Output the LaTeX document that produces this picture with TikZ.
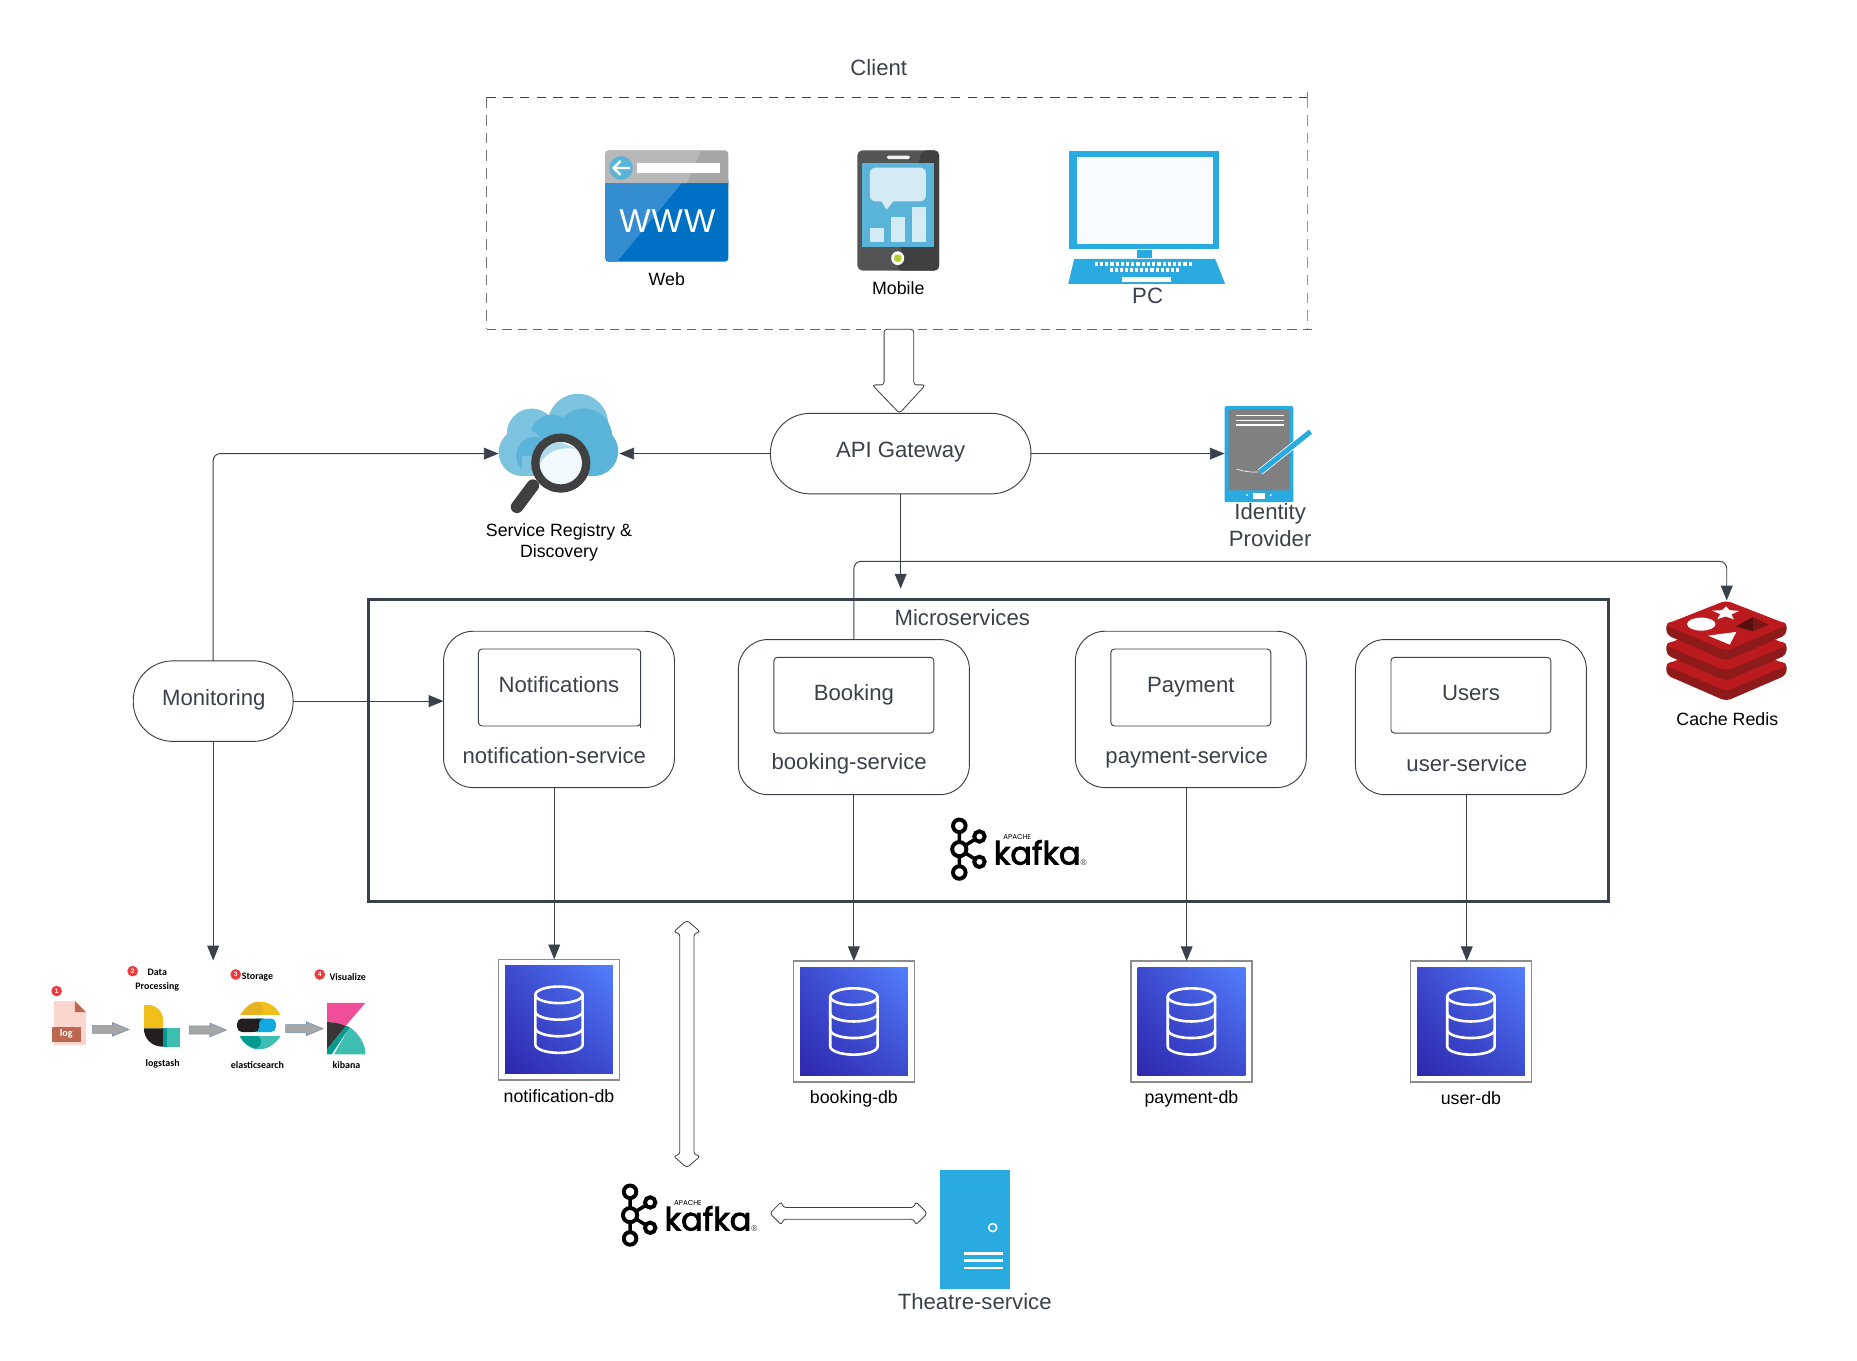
\documentclass[tikz,border=0pt]{standalone}
\usepackage{fontspec}
\setmainfont{Liberation Sans}
\newfontfamily\kafkafont[FakeBold=2.6]{Poppins}
\newfontfamily\kafkasmall{Poppins}
\newfontfamily\elkfont{Carlito}
\usetikzlibrary{arrows.meta,calc,shapes.geometric,shadings}
\definecolor{ink}{HTML}{3A414A}
\definecolor{skyb}{HTML}{29ABE2}
\definecolor{cloudA}{HTML}{7CC3E0}
\definecolor{cloudB}{HTML}{5AB4DA}
\definecolor{pale}{HTML}{D4EBF5}
\definecolor{redF}{HTML}{BB1A1E}
\definecolor{redS}{HTML}{8F1A1A}
\definecolor{tealA}{HTML}{3EBEB0}
\definecolor{tealB}{HTML}{019B8F}
\definecolor{yelA}{HTML}{F0BF1A}
\definecolor{pinkA}{HTML}{F04E98}
\definecolor{coalA}{HTML}{231F20}
\definecolor{webA}{HTML}{0070C4}
\definecolor{webB}{HTML}{338DD0}
\definecolor{dbA}{HTML}{2E27AD}
\definecolor{dbB}{HTML}{527FFF}
\definecolor{badge}{HTML}{EE3A3F}
\definecolor{logA}{HTML}{FDD5CF}
\definecolor{logB}{HTML}{BD6650}
\definecolor{elkEdge}{HTML}{7B93AD}
\definecolor{elasticB}{HTML}{0DA9E0}
\definecolor{limeB}{HTML}{B5CF2A}
\tikzset{
  x=1pt,y=-1pt,
  lab/.style={font=\fontsize{18.7}{23}\selectfont,text=ink,inner sep=0pt,align=center},
  blab/.style={font=\fontsize{15}{18.5}\selectfont,text=black,inner sep=0pt,align=center},
  elab/.style={font=\elkfont\bfseries\fontsize{8.4}{11.3}\selectfont,text=black,inner sep=0pt,align=center},
  iconbox/.style={inner sep=0pt,outer sep=0pt},
  pill/.style={draw=ink,line width=0.8pt,inner sep=0pt,outer sep=0pt,rounded corners=#1},
  pill/.default=25pt,
  inbox/.style={draw=ink,line width=0.8pt,inner sep=0pt,outer sep=0pt,rounded corners=3pt},
  link/.style={draw=ink,line width=0.8pt,-{Triangle[length=12.5pt,width=10pt]}},
  hollow/.style={draw=ink,line width=0.7pt,fill=white,rounded corners=2.5pt},
  elkarrow/.style={draw=elkEdge,fill=black!35,line width=0.5pt},
  dbframe/.style={draw=black!45,line width=1.3pt,inner sep=0pt,outer sep=0pt,minimum width=102pt,minimum height=102pt},
  dbline/.style={draw=white,line width=2.2pt},
}
\newcommand\kafkalogo[1]{%
  \begin{scope}[shift={(#1)},shift={(-50,0)}]
    \draw[black,line width=3pt] (0,-19.7)--(0,19.7) (0,0)--(17,-10.7) (0,0)--(17,10.7);
    \foreach \px/\py/\pr in {0/-19.7/5.3,0/19.7/5.3,0/0/6,17/-10.7/4.4,17/10.7/4.4}
      \draw[black,fill=white,line width=3.3pt] (\px,\py) circle[radius=\pr];
    \node[anchor=base west,inner sep=0pt,text=black,font=\kafkafont\fontsize{27}{27}\selectfont] at (29,13) {kafka};
    \node[anchor=west,inner sep=0pt,text=black,font=\kafkasmall\fontsize{6}{6}\selectfont] at (37,-10.5) {APACHE};
    \node[inner sep=0pt,text=black!80,font=\fontsize{7}{7}\selectfont] at (105,11.5) {®};
  \end{scope}}
\newcommand\dbicon[3]{%
  \node[dbframe] (#1) at (#2,#3) {};
  \begin{scope}[shift={(#2,#3)}]
    \shade[lower left=dbA,lower right=dbA!60!dbB,upper left=dbA!60!dbB,upper right=dbB] (-45.5,-45.5) rectangle (45.5,45.5);
    \draw[dbline] (0,-21) ellipse[x radius=20,y radius=7];
    \draw[dbline] (-20,-21) -- (-20,21) arc[start angle=180,end angle=0,x radius=20,y radius=7] -- (20,-21);
    \draw[dbline] (-20,-7) arc[start angle=180,end angle=0,x radius=20,y radius=7];
    \draw[dbline] (-20,7) arc[start angle=180,end angle=0,x radius=20,y radius=7];
  \end{scope}}
\newcommand\elkarrowat[3]{%
  \begin{scope}[shift={(#1,#2)}]
    \draw[elkarrow] (0,-3.4)--(#3-14,-3.4)--(#3-14,-5.8)--(#3,0)--(#3-14,5.8)--(#3-14,3.4)--(0,3.4)--cycle;
  \end{scope}}
\newcommand\elkbadge[3]{%
  \fill[badge] (#1,#2) circle[radius=4.5];
  \node[inner sep=0pt,text=white,font=\bfseries\fontsize{5.5}{5.5}\selectfont] at (#1,#2) {#3};}
\begin{document}
\begin{tikzpicture}
\useasboundingbox (0,0) rectangle (1568,1149);

% ---------- Client group
\node[lab] (clientlab) at (742,57) {Client};
\node[iconbox,minimum width=693pt,minimum height=196pt] (client) at (757.5,180) {};
\draw[ink,line width=0.7pt,dash pattern=on 8pt off 6pt] (client.north west) -- (client.north east);
\draw[gray!85,line width=0.9pt,dash pattern=on 9pt off 6pt] (client.north east) -- (client.south east);
\draw[gray!80!ink,line width=0.8pt,dash pattern=on 9pt off 6pt] (client.north west) -- (client.south west);
\draw[gray!60!ink,line width=0.8pt,dash pattern=on 8pt off 5pt] (client.south west) -- ([xshift=5pt]client.south east);
\draw[gray,line width=0.7pt] (client.north east) -- ([yshift=4pt]client.north east);

% Web icon
\node[iconbox,minimum width=104pt,minimum height=94pt] (web) at (563,174) {};
\fill[rounded corners=3pt,fill=black!35] (511,127) rectangle (615,160);
\fill[black!28] (514,127) -- (592,127) -- (580,154.7) -- (511,154.7) -- (511,130) -- cycle;
\fill[webA,rounded corners=3pt] (511,150) rectangle (615,221);
\fill[black!35] (511,147) rectangle (615,154.7);
\fill[black!28] (511,147) -- (583,147) -- (580,154.7) -- (511,154.7) -- cycle;
\fill[webB] (511,154.7) -- (575.6,154.7) -- (521,221) -- (514,221) -- (511,218) -- cycle;
\fill[cloudB] (524.4,141.8) circle[radius=10];
\draw[white,line width=2pt] (532,141.8) -- (518,141.8) (524,136) -- (518,141.8) -- (524,147.6);
\fill[white] (537.7,137.5) rectangle (608,146.3);
\node[inner sep=0pt,text=white,font=\fontsize{28}{28}\selectfont\addfontfeature{LetterSpace=3.5}] at (563.5,186.5) {WWW};
\node[blab] (weblab) at (563,235.5) {Web};

% Mobile icon
\node[iconbox,minimum width=69pt,minimum height=102pt] (mobile) at (758.5,178) {};
\fill[black!67,rounded corners=4pt] (724,127) rectangle (793,228.4);
\fill[black!75,rounded corners=4pt] (778,127) -- (793,127) -- (793,228.4) -- (757,228.4) -- cycle;
\fill[white!90!gray,rounded corners=1.5pt] (748.6,131.3) rectangle (768.5,134.3);
\fill[cloudB] (728,137.5) rectangle (789,208.4);
\fill[pale,rounded corners=5pt] (734.4,141.5) rectangle (781.8,170);
\fill[pale] (743,168) -- (748.6,177) -- (756,168) -- cycle;
\fill[pale] (734.4,192.7) rectangle (746.2,204.5);
\fill[pale] (752,183.4) rectangle (764,204.5);
\fill[pale] (770,174.4) rectangle (782,204.5);
\fill[white] (758,218) ellipse[x radius=5.5,y radius=5.8];
\fill[limeB] (758,218) circle[radius=3.3];
\node[blab] (moblab) at (758.5,243) {Mobile};

% PC icon
\node[iconbox,minimum width=132pt,minimum height=113pt] (pc) at (968,183) {};
\fill[skyb] (903,127.4) rectangle (1029,210);
\fill[white!97!skyb] (909,132.5) rectangle (1024.4,205.9);
\fill[skyb] (960.4,211) rectangle (972.3,218);
\fill[skyb] (907,218.6) -- (1026,218.6) -- (1034.4,239.6) -- (902,239.6) -- cycle;
\foreach \kx in {0,...,18} \fill[white] (924.4+\kx*4.4,221.6) rectangle ++(2.7,3);
\foreach \kx in {0,...,13} \fill[white] (937+\kx*4.3,226.6) rectangle ++(2.6,2.9);
\fill[white] (947,233.7) rectangle (989,238);
\node[lab] (pclab) at (969,250) {PC};

% ---------- Gateway row
\node[pill=33.5pt,minimum width=220pt,minimum height=68pt] (gw) at (760.5,383) {};
\node[lab] (gwlab) at (760.5,382) {API Gateway};

% Hollow arrow client -> gateway
\draw[hollow] ([xshift=-14pt]client.south -| gw.north)
  -- ++(0,47) -- ++(-10,0) -- ++(23,24) -- ++(22,-24) -- ++(-10,0) -- ++(0,-47) -- cycle;

% Cloud with magnifier
\node[iconbox,minimum width=102pt,minimum height=100pt] (cloud) at (472,383) {};
\fill[cloudA] (488,358) circle[radius=25.5];
\fill[cloudA] (449,366) circle[radius=21];
\fill[cloudB] (493,369) circle[radius=24];
\fill[cloudB] (501,381) circle[radius=21];
\fill[cloudB] (466,368) circle[radius=18];
\fill[cloudA] (441,382) circle[radius=20];
\fill[cloudB] (452,385) circle[radius=16];
\fill[cloudB] (448,372) rectangle (500,401.5);
\fill[cloudA] (441,385) rectangle (453,401.5);
\draw[black!75,line width=10.5pt,line cap=round] (450,410) -- (436.5,428);
\fill[white!90!cloudA] (473.5,391) circle[radius=18];
\fill[pale!70!cloudB] (473.5,373.5) arc[start angle=-90,end angle=-180,radius=18] -- (456,391) .. controls (462,382) and (470,377) .. (487,379) -- cycle;
\draw[black!75,line width=7pt] (473.5,391) circle[radius=21.5];
\node[blab] (cloudlab) at (472,458) {Service Registry \&\\Discovery};

% Identity provider
\node[iconbox,minimum width=58pt,minimum height=81pt] (idp) at (1063,383.5) {};
\fill[skyb,rounded corners=1pt] (1034,343) rectangle (1092,424);
\fill[black!50,rounded corners=1.5pt] (1037.5,345.5) rectangle (1089,414);
\foreach \ly in {351,355,359} \draw[white,line width=1.3pt] (1044,\ly) -- (1084,\ly);
\fill[white] (1058,416.3) rectangle (1068,421);
\fill[white] (1053,418) circle[radius=0.9] (1073,418) circle[radius=0.9];
\draw[white,line width=0.5pt] (1044,396) .. controls (1050,398) and (1056,399) .. (1062,398.5);
\draw[white,line width=5.6pt] (1064,398.5) -- (1106.5,364.5);
\draw[skyb,line width=4.3pt] (1064,398.5) -- (1106.5,364.5);
\node[lab] (idplab) at (1072.5,443.5) {Identity\\Provider};

% Redis
\node[iconbox,minimum width=102pt,minimum height=85pt] (redis) at (1458,549.5) {};
\foreach \oy in {34,17,0} {
  \begin{scope}[shift={(0.5,\oy)}]
    \fill[redS,rounded corners=4pt] (1406.5,525) -- (1406.5,536) -- (1457,558) -- (1508,536) -- (1508,525) -- cycle;
    \fill[redF,rounded corners=4.5pt] (1405,527.5) -- (1457,507) -- (1509.5,527.5) -- (1457,549.5) -- cycle;
  \end{scope}}
\fill[white] (1457.5,512) -- (1460.5,515.2) -- (1468.5,515.8) -- (1462,518.8) -- (1464,523) -- (1457,520.5) -- (1450,522.8) -- (1452.5,518.5) -- (1445.5,515.6) -- (1454,515.2) -- cycle;
\fill[white] (1436.5,527) ellipse[x radius=12,y radius=5.5];
\fill[white] (1442.2,536.7) -- (1466.1,533.6) -- (1460.5,544.3) -- cycle;
\fill[redS!85!black] (1466.1,528.9) -- (1480.1,521) -- (1493.5,527.5) -- (1480.1,533) -- cycle;
\fill[redS!60!black] (1466.1,528.9) -- (1480.1,521) -- (1480.1,533) -- cycle;
\node[blab] (redislab) at (1458.5,607) {Cache Redis};

% ---------- Microservices frame
\node[draw=ink,line width=2.3pt,inner sep=0pt,outer sep=0pt,minimum width=1047pt,minimum height=255pt] (micro) at (834.5,633.5) {};
\node[lab] (microlab) at (812.5,521.5) {Microservices};

% Services
\node[pill,minimum width=195pt,minimum height=132pt] (notif) at (472,599) {};
\node[inbox,minimum width=137pt,minimum height=65pt] (notifin) at (472.5,580.5) {};
\draw[ink,line width=1.3pt] (notifin.north east) ++(0,2) -- ([yshift=-2pt]notifin.south east);
\node[lab] (notiflab) at (472,578) {Notifications};
\node[lab] (notifcap) at (468,638) {notification-service};

\node[pill,minimum width=195pt,minimum height=131pt] (book) at (721,605.5) {};
\node[inbox,minimum width=135pt,minimum height=64pt] (bookin) at (721,587) {};
\node[lab] (booklab) at (721,586.5) {Booking};
\node[lab] (bookcap) at (717,644.5) {booking-service};

\node[pill,minimum width=195pt,minimum height=132pt] (pay) at (1005.5,599) {};
\node[inbox,minimum width=135pt,minimum height=65pt] (payin) at (1005.5,580.5) {};
\node[lab] (paylab) at (1005.5,580.5) {Payment};
\node[lab] (paycap) at (1002,640) {payment-service};

\node[pill,minimum width=195pt,minimum height=131pt] (usr) at (1242,605.5) {};
\node[inbox,minimum width=135pt,minimum height=64pt] (usrin) at (1242,587) {};
\node[lab] (usrlab) at (1242,585.5) {Users};
\node[lab] (usrcap) at (1238.5,644.5) {user-service};

% Kafka logos
\node[iconbox,minimum width=116pt,minimum height=54pt] (kafkaA) at (860,717) {};
\kafkalogo{kafkaA}
\node[iconbox,minimum width=116pt,minimum height=54pt] (kafkaB) at (582,1026) {};
\kafkalogo{kafkaB}

% Monitoring
\node[pill=33.5pt,minimum width=135pt,minimum height=68pt] (mon) at (180,592) {};
\node[lab] (monlab) at (180.5,591) {Monitoring};

% Databases
\dbicon{dbn}{472}{861}
\dbicon{dbb}{721}{862.5}
\dbicon{dbp}{1006}{862.5}
\dbicon{dbu}{1242}{862.5}
\node[blab] (dbnlab) at (472,925.5) {notification-db};
\node[blab] (dbblab) at (721,927.5) {booking-db};
\node[blab] (dbplab) at (1006,927.5) {payment-db};
\node[blab] (dbulab) at (1242,927) {user-db};

% Theatre service
\node[fill=skyb,iconbox,minimum width=59pt,minimum height=101pt] (thea) at (823,1038) {};
\draw[white,line width=1.3pt,fill=skyb] (838.2,1036.5) circle[radius=3.4];
\foreach \ly in {1058.5,1064.2,1070.6} \draw[white,line width=2.1pt] (814.3,\ly) -- (846.7,\ly);
\node[lab] (thealab) at (823,1099) {Theatre-service};

% ELK image
\node[iconbox,minimum width=290pt,minimum height=99pt] (elk) at (180,860.5) {};
\fill[logA] (45.6,845.3) -- (63.3,845.3) -- (72.6,854.6) -- (72.6,882.4) -- (45.6,882.4) -- cycle;
\fill[logB] (63.3,845.3) -- (72.6,854.6) -- (63.3,854.6) -- cycle;
\fill[logB] (43.9,867.2) rectangle (68.3,879.6);
\node[inner sep=0pt,text=white,font=\elkfont\bfseries\fontsize{8.5}{8.5}\selectfont] at (56,873.2) {log};
\elkarrowat{78}{869.2}{31}
\elkarrowat{159.8}{869.7}{31.5}
\elkarrowat{241.3}{868.6}{31.5}
\elkbadge{47.8}{836.8}{1}
\elkbadge{112}{820}{2}
\elkbadge{199}{822.8}{3}
\elkbadge{270}{822.8}{4}
\node[elab] at (132.8,827.5) {Data\\Processing};
\node[elab] at (217.4,824.9) {Storage};
\node[elab] at (293.6,824.9) {Visualize};
\node[elab] at (137.3,898.4) {logstash};
\node[elab] at (217.4,899) {elasticsearch};
\node[elab] at (292.5,899.5) {kibana};
% logstash logo
\fill[yelA] (121.5,848.6) -- (125,848.6) .. controls (132,848.6) and (137.8,854) .. (137.8,862) -- (137.8,868.3) -- (121.5,868.3) -- cycle;
\fill[coalA] (121.5,868.3) -- (137.8,868.3) -- (137.8,883.8) .. controls (128,883.8) and (121.5,877) .. (121.5,868.3) -- cycle;
\fill[tealA] (137.8,868.3) rectangle (151.6,883.8);
\fill[tealB] (137.8,868.3) rectangle (141.2,883.8);
% elasticsearch logo
\fill[yelA] (203,857) .. controls (208,849) and (214,845.8) .. (220,845.8) .. controls (227,845.8) and (233,850) .. (236.9,857) -- cycle;
\fill[yelA!80!brown] (203,857) .. controls (208,849) and (214,845.8) .. (217,845.8) .. controls (222,848) and (225,852) .. (219,857) -- cycle;
\fill[elasticB,rounded corners=4pt] (212,860) -- (232.9,860) -- (232.9,871.4) -- (212,871.4) -- cycle;
\fill[coalA,rounded corners=4pt] (200.3,860) -- (223,860) -- (218.8,860) -- (218.8,871.4) -- (200.3,871.4) -- cycle;
\fill[tealA] (202.5,874.8) -- (236.9,874.8) .. controls (232,882) and (226,886) .. (219,886) .. controls (212,886) and (206,882) .. (202.5,874.8) -- cycle;
\fill[tealB] (202.5,874.8) -- (218,874.8) .. controls (222,878) and (221,883) .. (216,885.6) .. controls (210,884) and (205,880) .. (202.5,874.8) -- cycle;
% kibana logo
\fill[pinkA] (276.2,846.7) -- (308.6,846.7) -- (291,867.2) .. controls (286,864) and (281,863) .. (276.2,863) -- cycle;
\fill[coalA!90!white] (276.2,863) .. controls (281,863) and (287,864) .. (292,866.5) -- (276.2,886) -- cycle;
\fill[tealA] (295.3,867.2) .. controls (303,873) and (308.6,881) .. (308.6,890.3) -- (282,890.3) -- cycle;
\fill[tealB] (276.2,886) -- (292.5,866.2) -- (295.3,867.4) -- (280,890.3) -- (276.2,890.3) -- cycle;

% ---------- Connectors
\draw[link] (gw.west) -- (gw.west -| cloud.east);
\draw[link] (gw.east) -- (gw.east -| idp.west);
\draw[link,shorten >=9pt] (gw.south) -- (gw.south |- micro.north);
\draw[link,rounded corners=6pt] (mon.north) |- (cloud.west);
\coordinate (busbend) at (721,474);
\draw[link,rounded corners=6pt] (book.north) -- (busbend) -| (redis.north);
\draw[link] (mon.east) -- (mon.east -| notif.west);
\draw[link] (mon.south) -- (mon.south |- elk.north);
\draw[link] (notifcap |- notif.south) -- (notifcap |- dbn.north);
\draw[link] (book.south) -- (dbb.north);
\draw[link] (paycap |- pay.south) -- (paycap |- dbp.north);
\draw[link] (usrcap |- usr.south) -- (usrcap |- dbu.north);

% Hollow double arrows
\coordinate (vtop) at (580,777);
\draw[hollow] (vtop) -- ++(11.5,10) -- ++(-5.5,1) -- ++(0,187) -- ++(5.5,1) -- ++(-11.5,10) -- ++(-11.5,-10) -- ++(5.5,-1) -- ++(0,-187) -- ++(-5.5,-1) -- cycle;
\coordinate (hleft) at (650,1024.5);
\draw[hollow] (hleft) -- ++(10,-10) -- ++(1,5) -- ++(111,0) -- ++(1,-5) -- ++(10,10) -- ++(-10,10) -- ++(-1,-5) -- ++(-111,0) -- ++(-1,5) -- cycle;
\end{tikzpicture}
\end{document}
